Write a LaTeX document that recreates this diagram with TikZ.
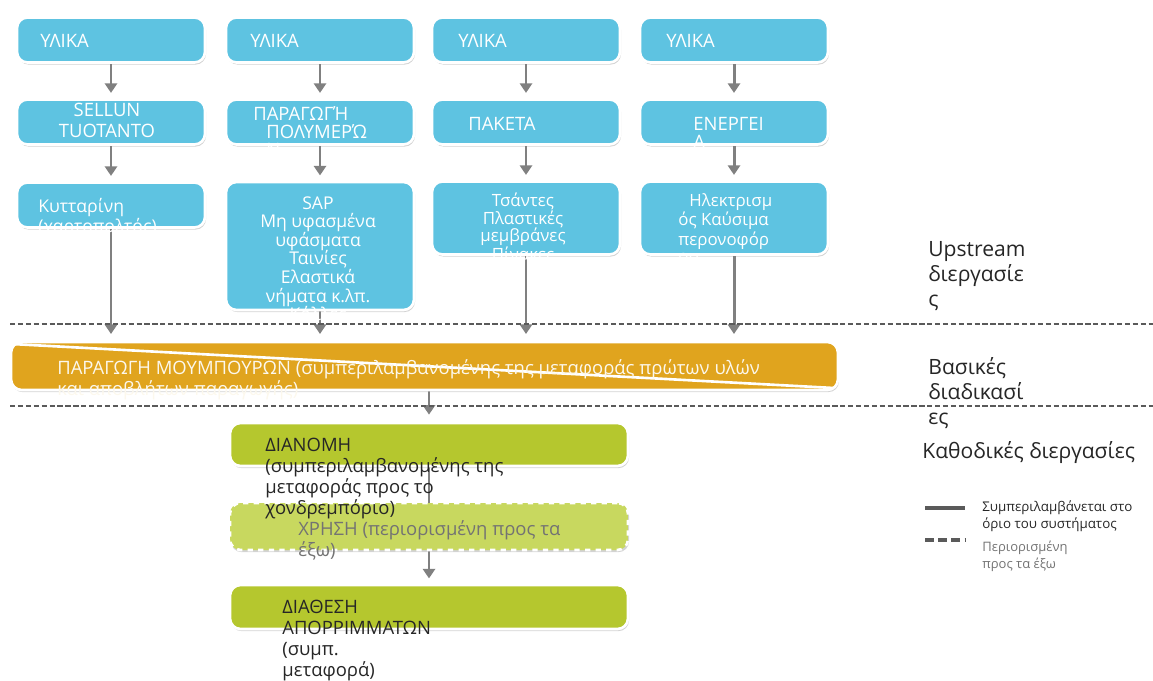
\documentclass[tikz,border=0pt]{standalone}
\usepackage{fontspec}
\setmainfont{Open Sans}
\usetikzlibrary{arrows.meta,shadows,backgrounds}
\definecolor{boxblue}{RGB}{94,195,225}
\definecolor{orgbox}{RGB}{224,164,30}
\definecolor{grnbox}{RGB}{181,199,46}
\definecolor{ltgrn}{RGB}{200,216,95}
\definecolor{arrgray}{RGB}{128,128,128}
\definecolor{dashgray}{RGB}{90,90,90}
\begin{document}
\begin{tikzpicture}[x=0.02cm,y=-0.02cm]
  \tikzset{box/.style={draw=white, line width=1.5pt, rounded corners=6pt,
      drop shadow={shadow xshift=0.6pt, shadow yshift=-1.2pt, opacity=0.35}},
    bluebox/.style={box, fill=boxblue, minimum width=3.76cm},
    grnbox/.style={box, fill=grnbox, minimum width=7.96cm},
    wtxt/.style={inner sep=0pt, text=white, font=\fontsize{10.5}{10.8}\selectfont},
    gtxt/.style={inner sep=0pt, text=black!85, align=left, font=\fontsize{10.5}{12}\selectfont},
    side/.style={inner sep=0pt, text=black!85, align=left, font=\fontsize{12}{14.2}\selectfont},
    arr/.style={draw=arrgray, line width=1.7pt, -{Triangle[length=5.5pt,width=7pt]}},
    sep/.style={draw=dashgray, line width=0.6pt, dash pattern=on 3pt off 1.5pt}}
  \useasboundingbox (0,0) rectangle (1153,680);

  % upstream columns
  \node[bluebox, minimum height=0.9cm] (u1) at (111,40) {};
  \node[bluebox, minimum height=0.9cm] (u2) at (320,40) {};
  \node[bluebox, minimum height=0.9cm] (u3) at (526,40) {};
  \node[bluebox, minimum height=0.9cm] (u4) at (734,40) {};
  \node[bluebox, minimum height=0.9cm] (p1) at (111,122) {};
  \node[bluebox, minimum height=0.9cm] (p2) at (320,122) {};
  \node[bluebox, minimum height=0.9cm] (p3) at (526,122) {};
  \node[bluebox, minimum height=0.9cm] (p4) at (734,122) {};
  \node[bluebox, minimum height=0.9cm] (s1) at (111,205) {};
  \node[bluebox, minimum height=2.56cm] (s2) at (320,246) {};
  \node[bluebox, minimum height=1.46cm] (s3) at (526,218) {};
  \node[bluebox, minimum height=1.46cm] (s4) at (734,218) {};

  \node[wtxt, anchor=west] (u1t) at (40,41) {ΥΛΙΚΑ};
  \node[wtxt, anchor=west] (u2t) at (250,41) {ΥΛΙΚΑ};
  \node[wtxt, anchor=west] (u3t) at (458,41) {ΥΛΙΚΑ};
  \node[wtxt, anchor=west] (u4t) at (666,41) {ΥΛΙΚΑ};
  \node[wtxt, align=center, anchor=north, font=\fontsize{10.5}{12}\selectfont] (p1t) at (107,103) {SELLUN\\TUOTANTO};
  \node[wtxt, align=left, anchor=north west, font=\fontsize{10.5}{10.4}\selectfont] (p2t) at (266,106) {\hspace*{-0.26cm}ΠΑΡΑΓΩΓΉ\\ΠΟΛΥΜΕΡΏ\\Ν};
  \node[wtxt, anchor=west] (p3t) at (468,124) {ΠΑΚΕΤΑ};
  \node[wtxt, align=left, anchor=north west, font=\fontsize{10.5}{10.4}\selectfont] (p4t) at (693,117) {ΕΝΕΡΓΕΙ\\Α};
  \node[wtxt, align=left, anchor=north west, font=\fontsize{10}{11.5}\selectfont] (s1t) at (38,198) {Κυτταρίνη\\(χαρτοπολτός)};
  \node[wtxt, align=center, anchor=north, font=\fontsize{10}{10.6}\selectfont] (s2t) at (318,196) {SAP\\Μη υφασμένα\\υφάσματα\\Ταινίες\\Ελαστικά\\νήματα κ.λπ.\\Κόλλες};
  \node[wtxt, align=center, anchor=north, font=\fontsize{9.6}{9.8}\selectfont] (s3t) at (523,193) {Τσάντες\\Πλαστικές\\μεμβράνες\\Πίνακες};
  \node[wtxt, align=left, anchor=north west, font=\fontsize{9.6}{9.8}\selectfont] (s4t) at (678,193) {\hspace*{0.22cm}Ηλεκτρισμ\\ός Καύσιμα\\περονοφόρ\\ου};

  % core process
  \node[box, fill=orgbox, minimum width=16.54cm, minimum height=0.96cm] (mb) at (424.5,366) {};
  \coordinate (d1) at (12,344);
  \coordinate (d2) at (834,388);
  \draw[white, line width=1.5pt] (d1) -- (d2);
  \node[wtxt, align=left, anchor=north west, text=white!92!orgbox, font=\fontsize{10.5}{10.8}\selectfont] (mbt) at (57,359) {ΠΑΡΑΓΩΓΗ ΜΟΥΜΠΟΥΡΩΝ (συμπεριλαμβανομένης της μεταφοράς πρώτων υλών\\και αποβλήτων παραγωγής)};

  % downstream
  \node[grnbox, minimum height=0.86cm] (di) at (429,444.5) {};
  \node[box, fill=ltgrn, dashed, minimum width=7.96cm, minimum height=0.94cm] (xr) at (429,526.5) {};
  \node[grnbox, minimum height=0.88cm] (dt) at (429,607) {};
  \node[gtxt, anchor=north west] (dit) at (265,438) {ΔΙΑΝΟΜΗ\\(συμπεριλαμβανομένης της\\μεταφοράς προς το\\χονδρεμπόριο)};
  \node[gtxt, anchor=north west, text=black!55] (xrt) at (298,520) {ΧΡΗΣΗ (περιορισμένη προς τα\\έξω)};
  \node[gtxt, anchor=north west] (dtt) at (282,600) {ΔΙΑΘΕΣΗ\\ΑΠΟΡΡΙΜΜΑΤΩΝ\\(συμπ.\\μεταφορά)};

  % boundaries
  \coordinate (b1l) at (10,324);
  \coordinate (b1r) at (1153,324);
  \coordinate (b2l) at (10,406);
  \coordinate (b2r) at (1153,406);
  \draw[sep] (b1l) -- (b1r);
  \draw[sep] (b2l) -- (b2r);

  \coordinate (t1) at (111,334);
  \coordinate (t2) at (320,334);
  \coordinate (t3) at (526,334);
  \coordinate (t4) at (734,334);
  \begin{scope}[on background layer]
    \foreach \c in {1,...,4}{
      \draw[arr, shorten >=3pt] (u\c) -- (p\c);
      \draw[arr, shorten >=3pt] (p\c) -- (s\c);
      \draw[arr] (s\c.south) -- (t\c);
    }
    \draw[arr, shorten >=4pt] (di.north |- mb.south) -- (di.north);
    \draw[arr] (di.south) -- (xr.center);
    \draw[arr, shorten >=3pt] (xr) -- (dt);
  \end{scope}

  % side labels
  \node[side, anchor=north west] (up) at (928,241) {Upstream\\διεργασίε\\ς};
  \node[side, anchor=north west] (ba) at (928,357) {Βασικές\\διαδικασί\\ες};
  \node[side, anchor=west] (ka) at (922,453) {Καθοδικές διεργασίες};

  % legend
  \coordinate (l1a) at (925,508);
  \coordinate (l1b) at (965,508);
  \coordinate (l2a) at (925,540);
  \coordinate (l2b) at (965,540);
  \draw[dashgray, line width=2.2pt] (l1a) -- (l1b);
  \draw[dashgray, line width=2.2pt, dash pattern=on 5pt off 2.5pt] (l2a) -- (l2b);
  \node[inner sep=0pt, anchor=north west, align=left, text=black!85, font=\fontsize{7.6}{10}\selectfont] (lg1) at (982,500) {Συμπεριλαμβάνεται στο\\όριο του συστήματος};
  \node[inner sep=0pt, anchor=north west, align=left, text=black!55, font=\fontsize{7.4}{9.2}\selectfont] (lg2) at (982,541) {Περιορισμένη\\προς τα έξω};
\end{tikzpicture}
\end{document}
